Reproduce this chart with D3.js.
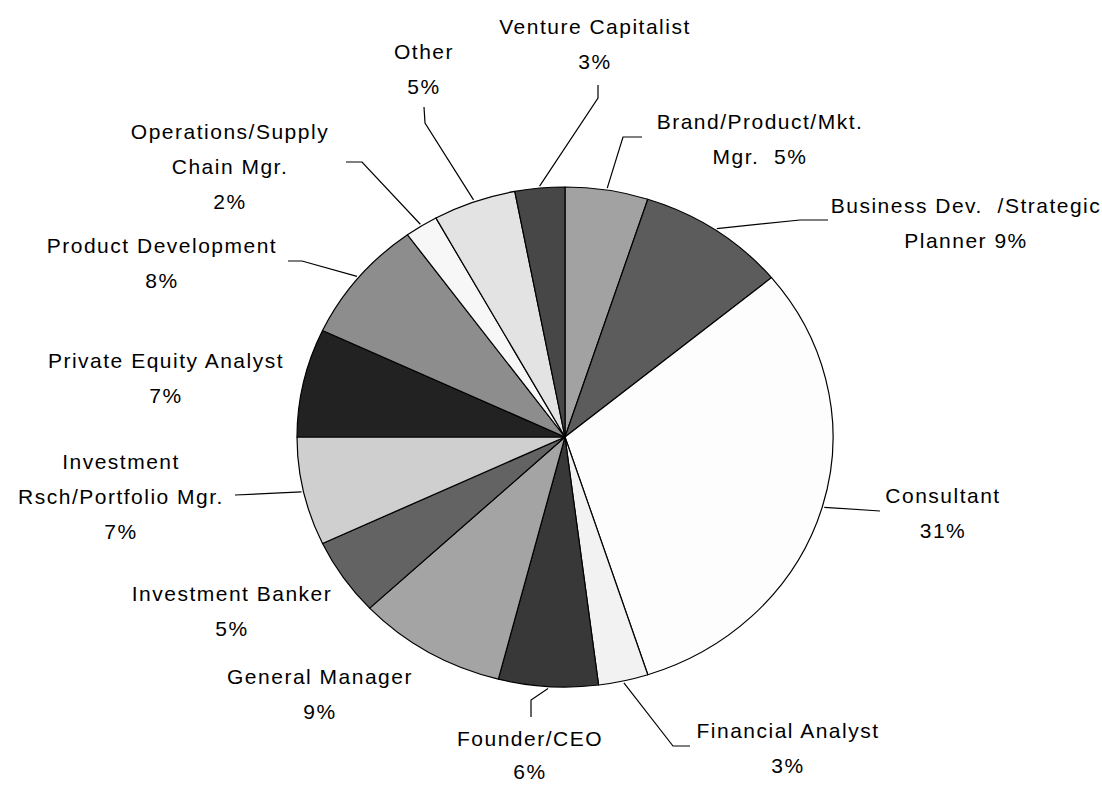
<!DOCTYPE html>
<html>
<head>
<meta charset="utf-8">
<script src="https://cdn.jsdelivr.net/npm/d3@7"></script>
<style>
  html, body { margin: 0; padding: 0; background: #fff; }
  svg text { font-family: "Liberation Sans", Arial, sans-serif; font-size: 21px; letter-spacing: 1.5px; fill: #000; white-space: pre; }
</style>
</head>
<body>
<svg id="chart" width="1102" height="785"></svg>
<script>
// slices, clockwise from 12 o'clock
const categories = [
  "Brand/Product/Mkt. Mgr.", "Business Dev. /Strategic Planner", "Consultant",
  "Financial Analyst", "Founder/CEO", "General Manager", "Investment Banker",
  "Investment Rsch/Portfolio Mgr.", "Private Equity Analyst", "Product Development",
  "Operations/Supply Chain Mgr.", "Other", "Venture Capitalist"
];
const shares = [5, 9, 31, 3, 6, 9, 5, 7, 7, 8, 2, 5, 3];
const greys = [
  "#a2a2a2", "#5c5c5c", "#fdfdfd", "#f2f2f2", "#383838", "#a4a4a4", "#636363",
  "#cfcfcf", "#222222", "#8d8d8d", "#f7f7f7", "#e3e3e3", "#474747"
];
// label text, {v} is replaced by the share
const labelLines = [
  ["Brand/Product/Mkt.", "Mgr.  {v}%"],
  ["Business Dev.  /Strategic", "Planner {v}%"],
  ["Consultant", "{v}%"],
  ["Financial Analyst", "{v}%"],
  ["Founder/CEO", "{v}%"],
  ["General Manager", "{v}%"],
  ["Investment Banker", "{v}%"],
  ["Investment", "Rsch/Portfolio Mgr.", "{v}%"],
  ["Private Equity Analyst", "{v}%"],
  ["Product Development", "{v}%"],
  ["Operations/Supply", "Chain Mgr.", "{v}%"],
  ["Other", "{v}%"],
  ["Venture Capitalist", "{v}%"]
];
// label anchor (centre x, first baseline y)
const labelPos = [
  [760, 129], [966, 213], [943, 503], [788, 738], [530, 746], [320, 684], [232, 601],
  [121, 469], [166, 368], [162, 253], [230, 139], [424, 59], [595, 34]
];
// leader elbows (from label side toward the slice)
const leaderPts = [
  [[642, 137], [623, 137]],
  [[828, 220], [800, 220]],
  [[880, 511]],
  [[690, 746], [673, 746]],
  [[531, 717], [531, 700]],
  [],
  [],
  [[235, 495]],
  [],
  [[288, 261], [302, 261]],
  [[346, 162], [362, 162]],
  [[424, 107], [425, 123]],
  [[598, 85], [598, 98]]
];

const cx = 565, cy = 437, ry = 250, rx = 268;
const lineGap = 35;

const data = categories.map((c, i) => ({ name: c, value: shares[i], color: greys[i], i }));

const svg = d3.select("#chart");
const pie = d3.pie().value(d => d.value).sort(null);
const arcs = pie(data);
const arc = d3.arc().innerRadius(0).outerRadius(ry);

const pieG = svg.append("g")
  .attr("transform", `translate(${cx},${cy}) scale(${rx / ry},1)`);

pieG.selectAll("path")
  .data(arcs)
  .join("path")
  .attr("d", arc)
  .attr("fill", d => d.data.color)
  .attr("stroke", "#000")
  .attr("stroke-width", 1.2)
  .attr("vector-effect", "non-scaling-stroke")
  .attr("stroke-linejoin", "round");

// leader lines start on the rim at the slice mid-angle
const line = d3.line();
svg.append("g").selectAll("path")
  .data(arcs.filter(d => leaderPts[d.data.i].length))
  .join("path")
  .attr("d", d => {
    const a = (d.startAngle + d.endAngle) / 2;
    const rim = [cx + (rx + 2) * Math.sin(a), cy - (ry + 2) * Math.cos(a)];
    return line([...leaderPts[d.data.i], rim]);
  })
  .attr("fill", "none")
  .attr("stroke", "#000")
  .attr("stroke-width", 1.2);

const labels = svg.append("g").selectAll("text")
  .data(data)
  .join("text")
  .attr("text-anchor", "middle")
  .attr("x", d => labelPos[d.i][0])
  .attr("y", d => labelPos[d.i][1]);

labels.selectAll("tspan")
  .data(d => labelLines[d.i].map((s, k, all) => ({
    s: s.replace("{v}", d.value),
    x: labelPos[d.i][0],
    // founder label sits on the bottom edge, so its lines are a bit tighter
    gap: d.i === 4 ? lineGap - 2 : lineGap
  })))
  .join("tspan")
  .attr("x", t => t.x)
  .attr("dy", (t, k) => k ? t.gap : 0)
  .text(t => t.s);
</script>
</body>
</html>
